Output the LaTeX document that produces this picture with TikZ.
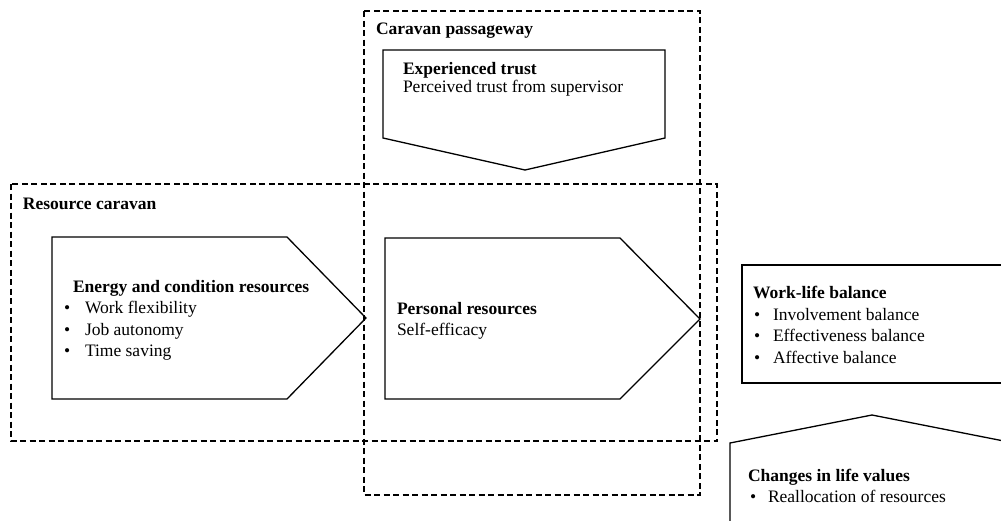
\documentclass[tikz,border=0pt]{standalone}
\usepackage{fontspec}
\setmainfont{Liberation Serif}
\begin{document}
\begin{tikzpicture}[x=1pt,y=-1pt,
  every node/.style={inner sep=0pt,outer sep=0pt,anchor=base west,font=\fontsize{17.5}{21.5}\selectfont},
  groupbox/.style={draw,line width=1.2pt,dash pattern=on 6pt off 3.5pt},
  shapeline/.style={draw,line width=1.3pt,line join=miter},
  hd/.style={font=\fontsize{17.5}{21.5}\selectfont\bfseries}]
\path[use as bounding box] (0,0) rectangle (1001,520);
\clip (0,0) rectangle (1001,520);
% group boxes
\draw[groupbox] (364,11) rectangle (700,495);
\draw[groupbox] (11,184) rectangle (717,441);
% pentagons
\draw[shapeline] (383,50) -- (665,50) -- (665,138) -- (525,170) -- (383,138) -- cycle;
\draw[shapeline] (52,237) -- (287,237) -- (366,318) -- (287,399) -- (52,399) -- cycle;
\draw[shapeline] (385,238) -- (620,238) -- (700,319) -- (620,399) -- (385,399) -- cycle;
\draw[shapeline] (742,265) rectangle (1012,383);
\draw[shapeline] (730,530) -- (730,443) -- (872,415) -- (1014,443) -- (1014,530);
% labels
\node[hd] (cp) at (376,34) {Caravan passageway};
\node[hd] (rc) at (23,209) {Resource caravan};
\node[hd] (et) at (403,74) {Experienced trust};
\node (pt) at (403,92) {Perceived trust from supervisor};
\node[hd] (ec) at (73,292) {Energy and condition resources};
\node (b1) at (64,313) {•};
\node (t1) at (85,313) {Work flexibility};
\node (b2) at (64,335) {•};
\node (t2) at (85,335) {Job autonomy};
\node (b3) at (64,356.5) {•};
\node (t3) at (85,356.5) {Time saving};
\node[hd] (pr) at (397,314) {Personal resources};
\node (se) at (397,335) {Self-efficacy};
\node[hd] (wl) at (753,298) {Work-life balance};
\node (b4) at (754,320) {•};
\node (t4) at (773,320) {Involvement balance};
\node (b5) at (754,341.5) {•};
\node (t5) at (773,341.5) {Effectiveness balance};
\node (b6) at (754,363) {•};
\node (t6) at (773,363) {Affective balance};
\node[hd] (cl) at (748,481) {Changes in life values};
\node (b7) at (750,502) {•};
\node (t7) at (768,502) {Reallocation of resources};
\end{tikzpicture}
\end{document}
